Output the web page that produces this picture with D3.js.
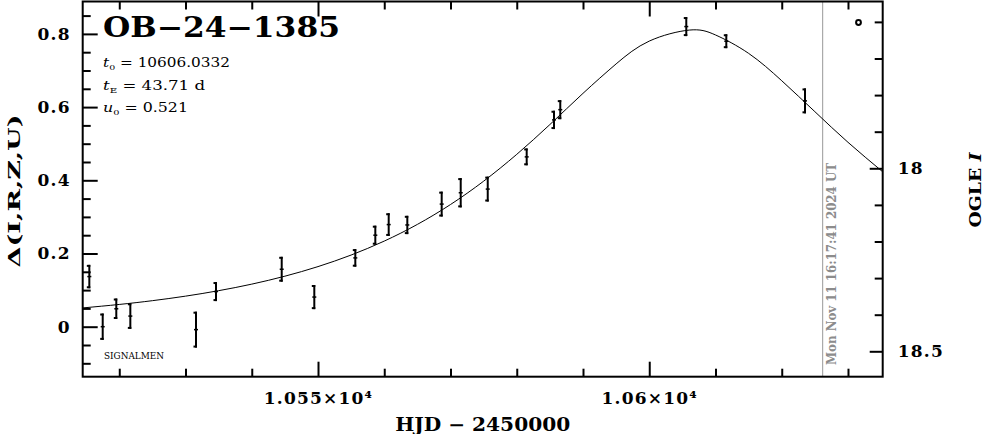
<!DOCTYPE html>
<html>
<head>
<meta charset="utf-8">
<script src="https://cdn.jsdelivr.net/npm/d3@7"></script>
<style>
  html, body { margin: 0; padding: 0; background: #fff; }
  svg { display: block; }
  text { font-family: "DejaVu Serif", "Liberation Serif", serif; fill: #000; }
</style>
</head>
<body>
<svg id="chart" width="986" height="434"></svg>
<script>
// ---------- data ----------
const hjd   = [10515.48, 10517.50, 10519.55, 10521.67, 10531.58, 10534.60, 10544.52, 10549.44,
               10555.63, 10558.65, 10560.67, 10563.48, 10568.67, 10571.54, 10575.62, 10581.50,
               10585.62, 10586.57, 10605.59, 10611.63, 10623.51];
const delta = [0.137, 0.000, 0.049, 0.029, -0.008, 0.096, 0.157, 0.081,
               0.188, 0.250, 0.279, 0.278, 0.335, 0.366, 0.376, 0.464,
               0.565, 0.593, 0.820, 0.780, 0.617];
const deltaErr = [0.032, 0.036, 0.028, 0.035, 0.049, 0.026, 0.034, 0.033,
                  0.024, 0.026, 0.031, 0.025, 0.034, 0.040, 0.034, 0.023,
                  0.025, 0.026, 0.026, 0.019, 0.034];

// model curve values
const modelT = [10514.48, 10520, 10525, 10530, 10535, 10540, 10545, 10550, 10555, 10560, 10565,
                10570, 10575, 10580, 10585, 10590, 10595, 10600, 10606.03, 10610, 10615, 10620,
                10625, 10630, 10635.24];
const modelDelta = [0.0513, 0.0608, 0.0711, 0.0835, 0.0984, 0.1163, 0.1380, 0.1642, 0.1958, 0.2339, 0.2795,
                    0.3338, 0.3976, 0.4709, 0.5523, 0.6375, 0.7180, 0.7803, 0.8104, 0.7971, 0.7468, 0.6720,
                    0.5875, 0.5038, 0.4233];

const xDomain = [10514.48, 10635.24];
const yDomain = [-0.1366, 0.8885];
const magDomain = [18.5694, 17.5443];

const xMajorTicks = [10550, 10600];
const xMinorTicks = [10520, 10530, 10540, 10560, 10570, 10580, 10590, 10610, 10620, 10630];
const xTickLabels = ["1.055×10⁴", "1.06×10⁴"];
const yMajorTicks = [0, 0.2, 0.4, 0.6, 0.8];
const yMinorTicks = [-0.1, -0.05, 0.05, 0.1, 0.15, 0.25, 0.3, 0.35, 0.45, 0.5, 0.55, 0.65, 0.7, 0.75, 0.85];
const yTickLabels = ["0", "0.2", "0.4", "0.6", "0.8"];
const magMajorTicks = [18, 18.5];
const magMinorTicks = [17.6, 17.7, 17.8, 17.9, 18.1, 18.2, 18.3, 18.4];
const magTickLabels = ["18", "18.5"];

const nowHJD = 10626.18;
const nowLabel = "Mon Nov 11 16:17:41 2024 UT";

// ---------- layout ----------
const L = 82.7, R = 882.7, T = 1.5, B = 376.7;
const svg = d3.select("#chart");

const x = d3.scaleLinear().domain(xDomain).range([L, R]);
const y = d3.scaleLinear().domain(yDomain).range([B, T]);
const yR = d3.scaleLinear().domain(magDomain).range([B, T]);

function styleAxis(g) {
  g.select(".domain").remove();
  g.selectAll(".tick line").attr("stroke", "#000").attr("stroke-width", 2);
  g.selectAll(".tick text")
    .attr("font-family", "DejaVu Serif, serif")
    .attr("font-weight", "bold")
    .attr("font-size", 17)
    .attr("letter-spacing", 1.2)
    .attr("fill", "#000");
}

// bottom
svg.append("g").attr("transform", `translate(0,${B})`)
  .call(d3.axisBottom(x).tickValues(xMinorTicks).tickSize(-8).tickFormat(""))
  .call(styleAxis);
svg.append("g").attr("transform", `translate(0,${B})`)
  .call(d3.axisBottom(x).tickValues(xMajorTicks).tickSize(-15).tickPadding(15)
        .tickFormat((d, i) => xTickLabels[i]))
  .call(styleAxis);
// top
svg.append("g").attr("transform", `translate(0,${T})`)
  .call(d3.axisTop(x).tickValues(xMinorTicks).tickSize(-8).tickFormat(""))
  .call(styleAxis);
svg.append("g").attr("transform", `translate(0,${T})`)
  .call(d3.axisTop(x).tickValues(xMajorTicks).tickSize(-15).tickFormat(""))
  .call(styleAxis);
// left
svg.append("g").attr("transform", `translate(${L},0)`)
  .call(d3.axisLeft(y).tickValues(yMinorTicks).tickSize(-8).tickFormat(""))
  .call(styleAxis);
svg.append("g").attr("transform", `translate(${L},0)`)
  .call(d3.axisLeft(y).tickValues(yMajorTicks).tickSize(-15).tickPadding(12)
        .tickFormat((d, i) => yTickLabels[i]))
  .call(styleAxis);
// right
svg.append("g").attr("transform", `translate(${R},0)`)
  .call(d3.axisRight(yR).tickValues(magMinorTicks).tickSize(-8).tickFormat(""))
  .call(styleAxis);
svg.append("g").attr("transform", `translate(${R},0)`)
  .call(d3.axisRight(yR).tickValues(magMajorTicks).tickSize(-13).tickPadding(15)
        .tickFormat((d, i) => magTickLabels[i]))
  .call(styleAxis);

// "now" line
svg.append("line")
  .attr("x1", x(nowHJD)).attr("x2", x(nowHJD))
  .attr("y1", T).attr("y2", B)
  .attr("stroke", "#999").attr("stroke-width", 1);
svg.append("text")
  .attr("transform", `translate(${x(nowHJD) + 13.5},264) rotate(-90)`)
  .attr("text-anchor", "middle")
  .attr("font-size", 12).attr("font-weight", "bold")
  .style("fill", "#8c8c8c")
  .attr("textLength", 202).attr("lengthAdjust", "spacingAndGlyphs")
  .text(nowLabel);

// model curve
const line = d3.line().x(d => x(d[0])).y(d => y(d[1])).curve(d3.curveNatural);
svg.append("path")
  .datum(modelT.map((t, i) => [t, modelDelta[i]]))
  .attr("d", line)
  .attr("fill", "none").attr("stroke", "#000").attr("stroke-width", 1);

// error bars
const pts = hjd.map((t, i) => ({ t, d: delta[i], e: deltaErr[i] }));
const eb = svg.append("g").attr("stroke", "#000").attr("stroke-width", 2);
pts.forEach(p => {
  const cx = x(p.t), y1 = y(p.d + p.e), y2 = y(p.d - p.e), cy = y(p.d);
  eb.append("line").attr("x1", cx).attr("x2", cx).attr("y1", y1).attr("y2", y2);
  eb.append("line").attr("x1", cx - 2.5).attr("x2", cx + 1).attr("y1", y1 + 1).attr("y2", y1 + 1);
  eb.append("line").attr("x1", cx - 2.5).attr("x2", cx + 1).attr("y1", y2 - 1).attr("y2", y2 - 1);
  eb.append("line").attr("x1", cx - 2).attr("x2", cx + 2).attr("y1", cy).attr("y2", cy)
    .attr("stroke-width", 1.5);
});

// frame
svg.append("rect")
  .attr("x", L).attr("y", T).attr("width", R - L).attr("height", B - T)
  .attr("fill", "none").attr("stroke", "#000").attr("stroke-width", 2);

// legend marker (OGLE)
svg.append("circle").attr("cx", 858.5).attr("cy", 22.5).attr("r", 2.4)
  .attr("fill", "none").attr("stroke", "#000").attr("stroke-width", 2);

// title and parameters
svg.append("text").attr("x", 103).attr("y", 37)
  .attr("font-size", 27).attr("font-weight", "bold")
  .attr("textLength", 237).attr("lengthAdjust", "spacingAndGlyphs")
  .text("OB−24−1385");

function param(yb, sym, sub, rest, len) {
  const t = svg.append("text").attr("x", 103).attr("y", yb).attr("font-size", 13)
    .attr("textLength", len).attr("lengthAdjust", "spacingAndGlyphs");
  t.append("tspan").attr("font-style", "italic").text(sym);
  t.append("tspan").attr("font-size", 8).attr("dy", 3).text(sub);
  t.append("tspan").attr("dy", -3).text(rest);
}
param(67, "t", "0", " = 10606.0332", 127);
param(89.5, "t", "E", " = 43.71 d", 102);
param(112, "u", "0", " = 0.521", 85);

svg.append("text").attr("x", 104).attr("y", 358.5)
  .attr("font-family", "Liberation Serif, serif")
  .attr("font-size", 10)
  .attr("textLength", 60).attr("lengthAdjust", "spacingAndGlyphs")
  .text("SIGNALMEN");

// axis titles
svg.append("text").attr("x", (L + R) / 2).attr("y", 431)
  .attr("text-anchor", "middle").attr("font-size", 18).attr("font-weight", "bold")
  .attr("textLength", 175).attr("lengthAdjust", "spacingAndGlyphs")
  .text("HJD − 2450000");

svg.append("text").attr("transform", "translate(19.5,191) rotate(-90)")
  .attr("text-anchor", "middle").attr("font-size", 17).attr("font-weight", "bold")
  .attr("textLength", 153).attr("lengthAdjust", "spacingAndGlyphs")
  .text("Δ(I,R,Z,U)");

const og = svg.append("text").attr("transform", "translate(981,190) rotate(-90)")
  .attr("text-anchor", "middle").attr("font-size", 17).attr("font-weight", "bold")
  .attr("textLength", 75).attr("lengthAdjust", "spacingAndGlyphs");
og.append("tspan").text("OGLE ");
og.append("tspan").attr("font-style", "italic").text("I");
</script>
</body>
</html>
